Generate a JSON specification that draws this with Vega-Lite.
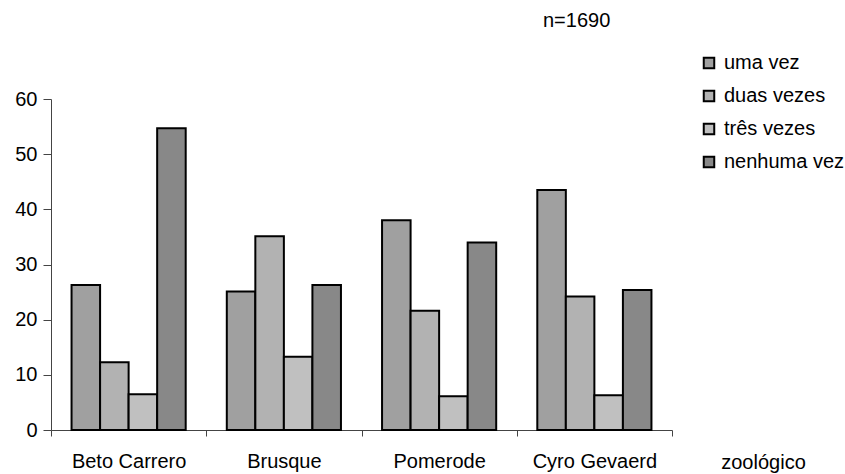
{
  "$schema": "https://vega.github.io/schema/vega-lite/v6.json",
  "autosize": "none",
  "width": 621,
  "height": 331,
  "padding": {"left": 51, "top": 99, "right": 173, "bottom": 44},
  "background": "white",
  "config": {
    "font": "Liberation Sans",
    "view": {"stroke": null}
  },
  "title": {
    "text": "n=1690",
    "anchor": "start",
    "frame": "group",
    "dx": 492,
    "offset": 22,
    "fontSize": 20,
    "fontWeight": "normal",
    "color": "black"
  },
  "data": {
    "values": [
      {"zoo": "Beto Carrero", "freq": "uma vez", "pct": 26.3},
      {"zoo": "Beto Carrero", "freq": "duas vezes", "pct": 12.3},
      {"zoo": "Beto Carrero", "freq": "três vezes", "pct": 6.5},
      {"zoo": "Beto Carrero", "freq": "nenhuma vez", "pct": 54.7},
      {"zoo": "Brusque", "freq": "uma vez", "pct": 25.1},
      {"zoo": "Brusque", "freq": "duas vezes", "pct": 35.1},
      {"zoo": "Brusque", "freq": "três vezes", "pct": 13.3},
      {"zoo": "Brusque", "freq": "nenhuma vez", "pct": 26.3},
      {"zoo": "Pomerode", "freq": "uma vez", "pct": 38.0},
      {"zoo": "Pomerode", "freq": "duas vezes", "pct": 21.6},
      {"zoo": "Pomerode", "freq": "três vezes", "pct": 6.1},
      {"zoo": "Pomerode", "freq": "nenhuma vez", "pct": 34.0},
      {"zoo": "Cyro Gevaerd", "freq": "uma vez", "pct": 43.5},
      {"zoo": "Cyro Gevaerd", "freq": "duas vezes", "pct": 24.2},
      {"zoo": "Cyro Gevaerd", "freq": "três vezes", "pct": 6.3},
      {"zoo": "Cyro Gevaerd", "freq": "nenhuma vez", "pct": 25.4}
    ]
  },
  "mark": {"type": "bar", "stroke": "black", "strokeWidth": 2, "strokeJoin": "miter"},
  "encoding": {
    "x": {
      "field": "zoo",
      "type": "nominal",
      "sort": ["Beto Carrero", "Brusque", "Pomerode", "Cyro Gevaerd"],
      "scale": {"paddingInner": 0, "paddingOuter": 0},
      "axis": {
        "title": "zoológico",
        "titleFontSize": 20,
        "titleFontWeight": "normal",
        "titleColor": "black",
        "titleX": 712,
        "titleY": 38,
        "titleAlign": "center",
        "titleBaseline": "alphabetic",
        "labelAngle": 0,
        "labelFontSize": 20,
        "labelColor": "black",
        "labelPadding": 15,
        "tickBand": "extent",
        "tickSize": 6,
        "tickColor": "#444444",
        "domainColor": "#444444",
        "domainWidth": 1,
        "tickWidth": 1
      }
    },
    "xOffset": {
      "field": "freq",
      "type": "nominal",
      "sort": ["uma vez", "duas vezes", "três vezes", "nenhuma vez"],
      "scale": {"paddingInner": 0, "paddingOuter": 0.72}
    },
    "y": {
      "field": "pct",
      "type": "quantitative",
      "scale": {"domain": [0, 60]},
      "axis": {
        "title": null,
        "values": [0, 10, 20, 30, 40, 50, 60],
        "grid": false,
        "labelFontSize": 20,
        "labelColor": "black",
        "labelPadding": 6,
        "tickSize": 8,
        "tickColor": "#444444",
        "domainColor": "#444444",
        "tickWidth": 1,
        "domainWidth": 1
      }
    },
    "fill": {
      "field": "freq",
      "type": "nominal",
      "sort": ["uma vez", "duas vezes", "três vezes", "nenhuma vez"],
      "scale": {
        "domain": ["uma vez", "duas vezes", "três vezes", "nenhuma vez"],
        "range": ["#a0a0a0", "#b2b2b2", "#c0c0c0", "#888888"]
      },
      "legend": {
        "title": null,
        "orient": "none",
        "legendX": 648,
        "legendY": -46,
        "symbolType": "square",
        "symbolSize": 110,
        "symbolStrokeColor": "black",
        "symbolStrokeWidth": 2,
        "symbolOpacity": 1,
        "labelFontSize": 20,
        "labelColor": "black",
        "labelOffset": 5,
        "rowPadding": 13
      }
    }
  }
}
